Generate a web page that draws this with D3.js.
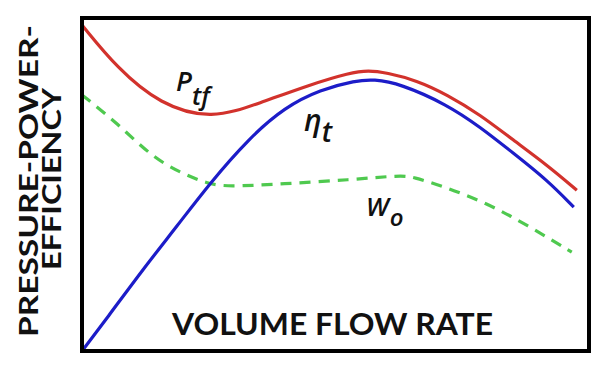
<!DOCTYPE html>
<html>
<head>
<meta charset="utf-8">
<script src="https://cdn.jsdelivr.net/npm/d3@7"></script>
<style>
  body { margin: 0; background: #fff; }
  svg { display: block; }
  text { font-family: "Lato", "Open Sans", sans-serif; fill: #111; }
</style>
</head>
<body>
<script>
// data (volume flow 0-100, arbitrary level 0-100)
const flow = {
  ptf: [0, 6.9, 15.4, 25.6, 35.1, 45.0, 52.9, 56.5, 60.0, 66.0, 72.0, 78.5, 85.0, 91.7, 97.6],
  eta: [0, 5.0, 12.0, 19.0, 25.0, 33.0, 40.0, 47.0, 54.0, 57.5, 62.7, 72.0, 78.5, 85.0, 91.7, 97.0],
  wo: [0, 6.9, 14.0, 19.9, 24.7, 28.6, 39.6, 52.9, 63.0, 65.3, 70.6, 79.9, 87.8, 96.6]
};
const ptfValues = [97.9, 85.0, 74.0, 69.5, 74.5, 80.0, 83.6, 84.3, 83.6, 81.3, 77.0, 71.0, 63.4, 55.9, 48.3];
const etaValues = [0, 10.0, 24.5, 38.0, 50.0, 64.0, 73.2, 78.5, 81.2, 81.6, 80.3, 74.0, 67.3, 59.5, 51.4, 43.2];
const woValues = [76.9, 68.5, 58.0, 53.2, 50.3, 49.3, 50.2, 51.4, 52.8, 52.2, 49.8, 44.4, 37.8, 29.7];

const width = 612;
const height = 373;

const x = d3.scaleLinear().domain([0, 100]).range([82, 589]);
const y = d3.scaleLinear().domain([0, 100]).range([351, 18]);

const svg = d3.select("body")
  .append("svg")
  .attr("width", width)
  .attr("height", height);

const line = d3.line()
  .x((d) => x(d[0]))
  .y((d) => y(d[1]))
  .curve(d3.curveBasis);

const series = [
  { key: "wo", xs: flow.wo, ys: woValues, color: "#4fc94f", dash: "11,8" },
  { key: "ptf", xs: flow.ptf, ys: ptfValues, color: "#d2322c", dash: null },
  { key: "eta", xs: flow.eta, ys: etaValues, color: "#1c1cc8", dash: null }
];

svg.selectAll("path.curve")
  .data(series)
  .enter()
  .append("path")
  .attr("class", "curve")
  .attr("d", (s) => line(s.xs.map((v, i) => [v, s.ys[i]])))
  .attr("fill", "none")
  .attr("stroke", (s) => s.color)
  .attr("stroke-width", 3.2)
  .attr("stroke-dasharray", (s) => s.dash);

// frame
svg.append("rect")
  .attr("x", x(0))
  .attr("y", y(100))
  .attr("width", x(100) - x(0))
  .attr("height", y(0) - y(100))
  .attr("fill", "none")
  .attr("stroke", "#000")
  .attr("stroke-width", 4);

// curve labels
const labels = [
  { main: "P", sub: "tf", x: 176, y: 91, size: 27, dx: 0, dy: 14 },
  { main: "η", sub: "t", x: 304, y: 131, size: 30, dx: 0, dy: 11 },
  { main: "W", sub: "o", x: 366, y: 216, size: 26, dx: 1, dy: 10 }
];

labels.forEach((l) => {
  const t = svg.append("text")
    .attr("x", l.x)
    .attr("y", l.y)
    .style("font-family", "'Open Sans', sans-serif")
    .style("font-style", "italic")
    .style("font-weight", 600)
    .style("font-size", l.size + "px");
  t.append("tspan").text(l.main);
  t.append("tspan")
    .attr("dx", l.dx)
    .attr("dy", l.dy)
    .style("font-size", (l.size - 2) + "px")
    .text(l.sub);
});

// axis titles
svg.append("text")
  .attr("x", 172)
  .attr("y", 335)
  .attr("textLength", 321)
  .attr("lengthAdjust", "spacingAndGlyphs")
  .style("font-size", "30px")
  .style("font-weight", 700)
  .text("VOLUME FLOW RATE");

const yTitle = svg.append("g")
  .attr("transform", "rotate(-90)");

yTitle.append("text")
  .attr("x", -337)
  .attr("y", 38)
  .attr("textLength", 312)
  .attr("lengthAdjust", "spacingAndGlyphs")
  .style("font-size", "27px")
  .style("font-weight", 700)
  .text("PRESSURE-POWER-");

yTitle.append("text")
  .attr("x", -270)
  .attr("y", 61)
  .attr("textLength", 182)
  .attr("lengthAdjust", "spacingAndGlyphs")
  .style("font-size", "27px")
  .style("font-weight", 700)
  .text("EFFICIENCY");
</script>
</body>
</html>
